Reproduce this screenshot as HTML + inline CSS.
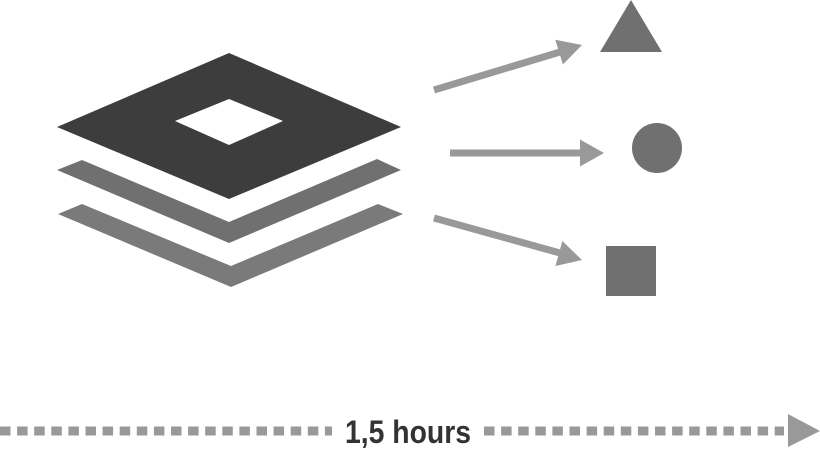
<!DOCTYPE html>
<html><head><style>html,body{margin:0;padding:0;background:#fff}</style></head>
<body>
<svg width="820" height="448" viewBox="0 0 820 448" xmlns="http://www.w3.org/2000/svg">
<path d="M229,53 L401,127 L229,199 L57,127 Z M229,99 L175,121 L229,145 L283,121 Z" fill="#3d3d3d" fill-rule="evenodd"/>
<polygon points="57,170 82,160 229,222 377,159 401,170 229,243" fill="#707070"/>
<polygon points="58,214 82,204 231,266 378,204 403,214 231,287" fill="#7a7a7a"/>
<g stroke="#999" stroke-width="7" fill="none">
<line x1="434" y1="90" x2="560" y2="52"/>
<line x1="450" y1="153" x2="582" y2="153"/>
<line x1="434" y1="218" x2="560" y2="253"/>
</g>
<g fill="#999">
<polygon points="582,45 562.9,64.5 555.3,39.7"/>
<polygon points="604,153 580,139.5 580,166.5"/>
<polygon points="582,260 555.4,266 562.4,241"/>
</g>
<g fill="#707070">
<polygon points="600,52 631,0 662,52"/>
<circle cx="657" cy="148" r="25"/>
<rect x="606" y="246" width="50" height="50"/>
</g>
<line x1="0" y1="431" x2="332" y2="431" stroke="#999" stroke-width="9" stroke-dasharray="10.5 6.6"/>
<line x1="484" y1="431" x2="784" y2="431" stroke="#999" stroke-width="9" stroke-dasharray="10.5 6.6"/>
<polygon points="788,414 820,431 788,447" fill="#999"/>
<text x="408" y="443" text-anchor="middle" font-family="Liberation Sans, sans-serif" font-weight="bold" font-size="32" fill="#333" textLength="126" lengthAdjust="spacingAndGlyphs">1,5 hours</text>
</svg>
</body></html>
